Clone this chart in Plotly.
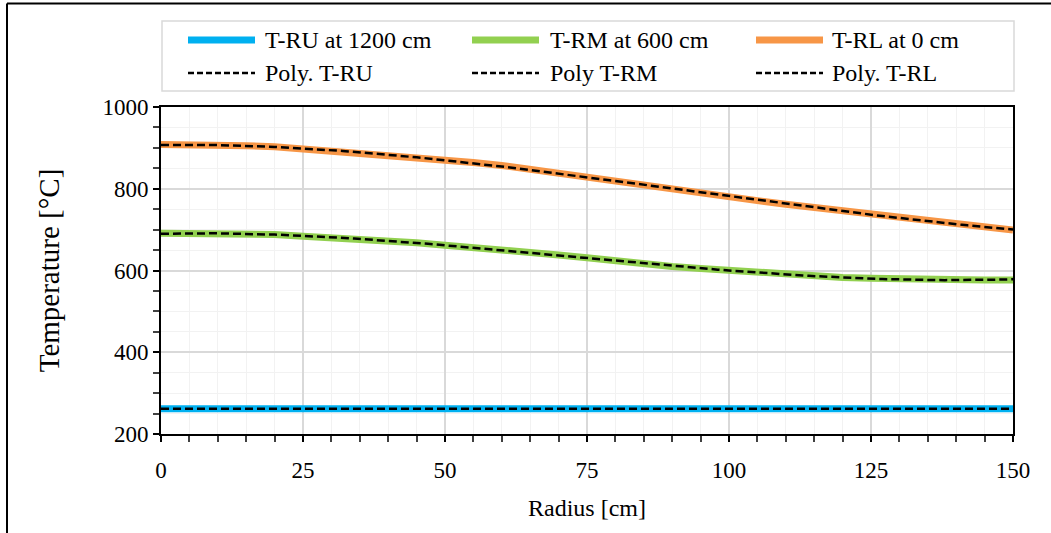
import numpy as np
import plotly.graph_objects as go

# ---------------- data ----------------
radius = [0, 5, 10, 15, 20, 25, 30, 35, 40, 45, 50, 55, 60, 65, 70, 75,
          80, 85, 90, 95, 100, 105, 110, 115, 120, 125, 130, 135, 140, 145, 150]
t_ru = [262] * 31
t_rm = [691, 691, 690, 689, 688, 684, 681, 677, 673, 668, 662, 657, 650, 644, 638, 631,
        623, 616, 610, 605, 600, 594, 589, 586, 583, 581, 579, 578, 577, 577, 577]
t_rl = [908, 908, 906, 905, 903, 898, 893, 888, 883, 877, 870, 864, 857, 847, 838, 829,
        819, 808, 798, 789, 781, 771, 762, 754, 746, 738, 729, 721, 714, 706, 699]

series_names = ["T-RU at 1200 cm", "T-RM at 600 cm", "T-RL at 0 cm"]
trend_names = ["Poly. T-RU", "Poly T-RM", "Poly. T-RL"]
x_ticks = [0, 25, 50, 75, 100, 125, 150]
y_ticks = [200, 400, 600, 800, 1000]

colors = ["#00B0F0", "#92D050", "#F79646"]
FONT = "Liberation Serif"

# ---------------- figure ----------------
W, H = 1051, 533
L, R, T, B = 161, 38, 107, 99
PW, PH = W - L - R, H - T - B

fig = go.Figure()
xs = np.array(radius, dtype=float)
for vals, name, col in zip([t_ru, t_rm, t_rl], series_names, colors):
    fig.add_trace(go.Scatter(x=radius, y=vals, mode="lines", name=name,
                             line=dict(color=col, width=7), showlegend=False))
for vals, name in zip([t_ru, t_rm, t_rl], trend_names):
    coef = np.polyfit(xs, np.array(vals, dtype=float), 4)
    xf = np.linspace(0, 150, 151)
    fig.add_trace(go.Scatter(x=xf, y=np.polyval(coef, xf), mode="lines", name=name,
                             line=dict(color="black", width=2.5, dash="8px,4px"),
                             showlegend=False))

axis_common = dict(
    showline=True, linecolor="black", linewidth=2, mirror=True,
    ticks="outside", ticklen=6, tickwidth=1.5, tickcolor="black",
    gridcolor="#D9D9D9", gridwidth=1.5, zeroline=False,
)
fig.update_xaxes(range=[0, 150], tickvals=x_ticks,
                 tickfont=dict(family=FONT, size=23, color="black"),
                 ticklabelstandoff=8,
                 minor=dict(dtick=5, ticks="outside", ticklen=6, tickcolor="#404040",
                            showgrid=True, gridcolor="#F2F2F2", gridwidth=1),
                 title=dict(text="Radius [cm]", font=dict(family=FONT, size=24, color="black"),
                            standoff=18),
                 **axis_common)
fig.update_yaxes(range=[200, 1000], tickvals=y_ticks,
                 tickfont=dict(family=FONT, size=23, color="black"),
                 minor=dict(dtick=50, ticks="outside", ticklen=6, tickcolor="#404040",
                            showgrid=True, gridcolor="#F2F2F2", gridwidth=1),
                 title=dict(text="Temperature [°C]", font=dict(family=FONT, size=29, color="black"),
                            standoff=34),
                 **axis_common)

def px2x(px):
    return (px - L) / PW

def py2y(py):
    return (H - B - py) / PH

shapes = []
# outer frame (only left and top visible in crop)
shapes.append(dict(type="line", xref="paper", yref="paper",
                   x0=px2x(7), y0=py2y(3.5), x1=px2x(1060), y1=py2y(3.5),
                   line=dict(color="black", width=2)))
shapes.append(dict(type="line", xref="paper", yref="paper",
                   x0=px2x(7), y0=py2y(3.5), x1=px2x(7), y1=py2y(545),
                   line=dict(color="black", width=2)))
# legend box
shapes.append(dict(type="rect", xref="paper", yref="paper",
                   x0=px2x(162), y0=py2y(91), x1=px2x(1014), y1=py2y(21),
                   line=dict(color="#D9D9D9", width=1.5), fillcolor="white"))
annotations = []
sym_x = [(188, 255), (472, 539), (756, 823)]
txt_x = [263, 548, 830]
row_y = [40, 73]
for i in range(3):
    shapes.append(dict(type="line", xref="paper", yref="paper",
                       x0=px2x(sym_x[i][0]), x1=px2x(sym_x[i][1]),
                       y0=py2y(row_y[0]), y1=py2y(row_y[0]),
                       line=dict(color=colors[i], width=7)))
    shapes.append(dict(type="line", xref="paper", yref="paper",
                       x0=px2x(sym_x[i][0]), x1=px2x(sym_x[i][1]),
                       y0=py2y(row_y[1]), y1=py2y(row_y[1]),
                       line=dict(color="black", width=2.5, dash="6px,3px")))
    annotations.append(dict(text=series_names[i], xref="paper", yref="paper",
                            x=px2x(txt_x[i]), y=py2y(row_y[0]), xanchor="left",
                            yanchor="middle", showarrow=False,
                            font=dict(family=FONT, size=24, color="black")))
    annotations.append(dict(text=trend_names[i], xref="paper", yref="paper",
                            x=px2x(txt_x[i]), y=py2y(row_y[1]), xanchor="left",
                            yanchor="middle", showarrow=False,
                            font=dict(family=FONT, size=24, color="black")))

fig.update_layout(
    width=W, height=H,
    margin=dict(l=L, r=R, t=T, b=B, pad=0),
    paper_bgcolor="white", plot_bgcolor="white",
    shapes=shapes, annotations=annotations,
    showlegend=False,
)

fig.write_html("out.html")
